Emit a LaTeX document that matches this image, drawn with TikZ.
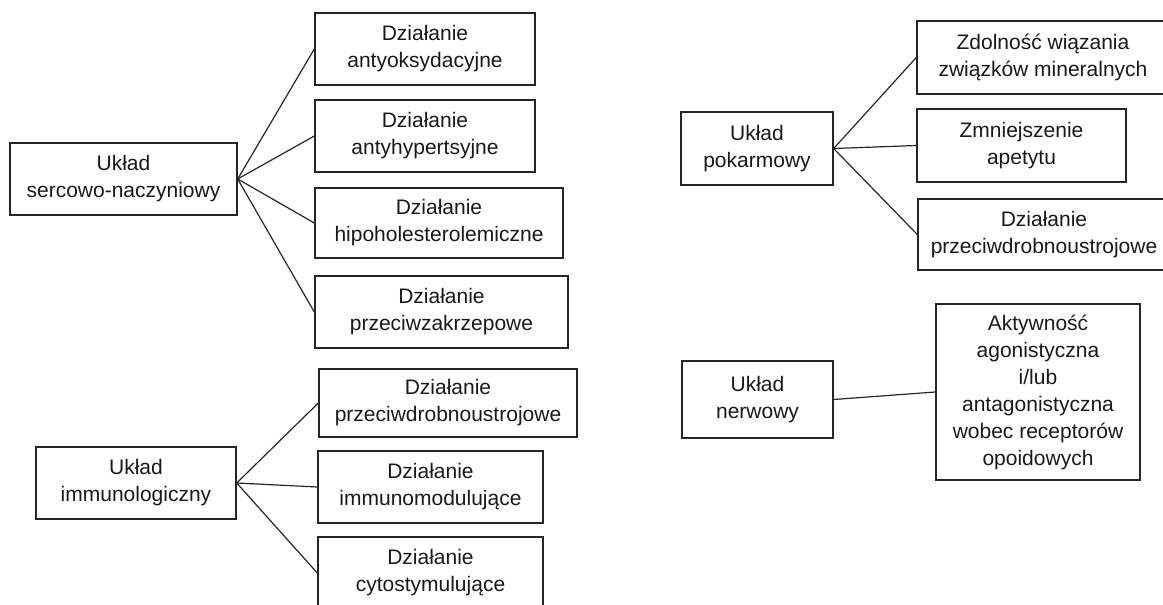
\documentclass[tikz,border=0pt]{standalone}
\usepackage{fontspec}
\setmainfont{Liberation Sans}
\usepackage{xcolor}
\usetikzlibrary{positioning}

\begin{document}
\begin{tikzpicture}[x=1pt, y=-1pt,
		box/.style={draw=black!85, rectangle, line width=1.4pt, align=center, inner sep=0pt, text=black!90, font=\fontsize{21}{27}\selectfont},
		link/.style={draw=black!85, line width=1.2pt}]
		\useasboundingbox (0,0) rectangle (1163,605);

		% Uklad sercowo-naczyniowy
		\node (serce) [box, minimum width=227pt, minimum height=72pt] at (123.5,179) {Układ\\sercowo-naczyniowy};
		\node (oks) [box, minimum width=220pt, minimum height=72pt] at (425,49) {Działanie\\antyoksydacyjne};
		\node (hiper) [box, minimum width=220pt, minimum height=72pt] at (425,136) {Działanie\\antyhypertsyjne};
		\node (chol) [box, minimum width=248pt, minimum height=70pt] at (439,223) {Działanie\\hipoholesterolemiczne};
		\node (zakrz) [box, minimum width=253pt, minimum height=72pt] at (441.5,312) {Działanie\\przeciwzakrzepowe};

		% Uklad immunologiczny
		\node (immuno) [box, minimum width=200pt, minimum height=72pt] at (136,483) {Układ\\immunologiczny};
		\node (drob_i) [box, minimum width=258pt, minimum height=68pt] at (448,403) {Działanie\\przeciwdrobnoustrojowe};
		\node (modul) [box, minimum width=225pt, minimum height=72pt] at (430.5,487) {Działanie\\immunomodulujące};
		\node (cyto) [box, minimum width=225pt, minimum height=72pt] at (430.5,573) {Działanie\\cytostymulujące};

		% Uklad pokarmowy
		\node (pokarm) [box, minimum width=152pt, minimum height=73pt] at (757,148.5) {Układ\\pokarmowy};
		\node (mineral) [box, minimum width=252pt, minimum height=73pt] at (1043,57.5) {Zdolność wiązania\\związków mineralnych};
		\node (apetyt) [box, minimum width=209pt, minimum height=73pt] at (1021.5,145.5) {Zmniejszenie\\apetytu};
		\node (drob_p) [box, minimum width=252pt, minimum height=71pt] at (1044,234.5) {Działanie\\przeciwdrobnoustrojowe};

		% Uklad nerwowy
		\node (nerw) [box, minimum width=151pt, minimum height=77pt] at (757.5,399.5) {Układ\\nerwowy};
		\node (opioid) [box, minimum width=204pt, minimum height=176pt] at (1038,392) {Aktywność\\agonistyczna\\i/lub\\antagonistyczna\\wobec receptorów\\opoidowych};

		% Connectors
		\foreach \dst in {oks, hiper, chol, zakrz}
			\path[link] (serce.east) -- (\dst.west);
		\foreach \dst in {drob_i, modul, cyto}
			\path[link] (immuno.east) -- (\dst.west);
		\foreach \dst in {mineral, apetyt, drob_p}
			\path[link] (pokarm.east) -- (\dst.west);
		\path[link] (nerw.east) -- (opioid.west);

	\end{tikzpicture}
\end{document}
